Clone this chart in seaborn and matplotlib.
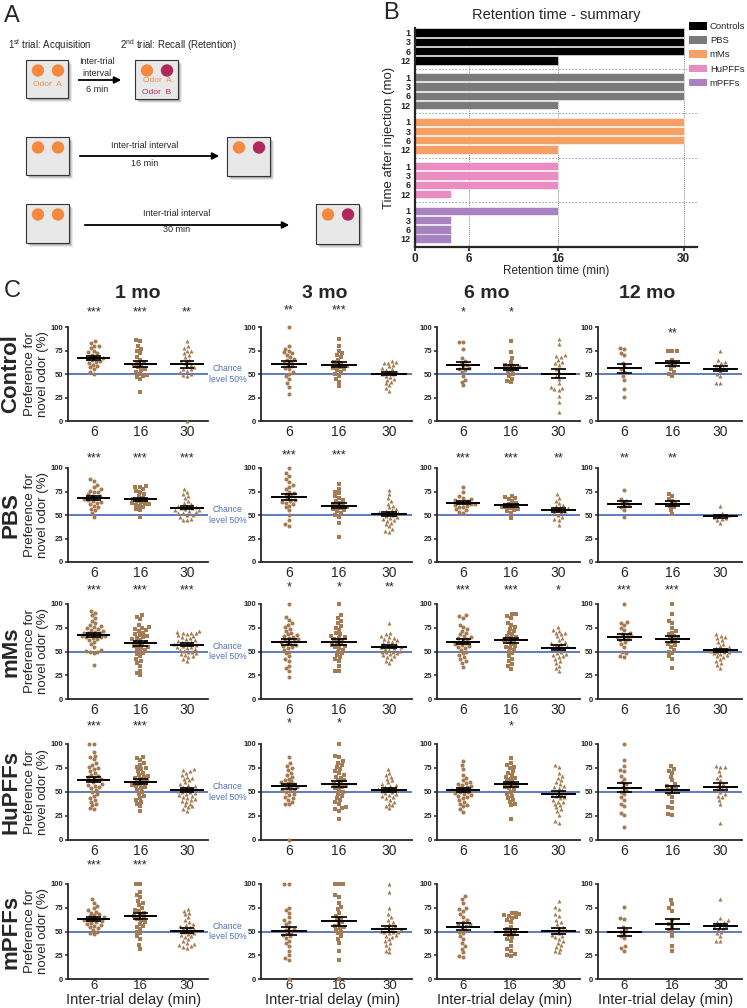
import numpy as np
import pandas as pd
import matplotlib
matplotlib.use("Agg")
import matplotlib.pyplot as plt
import seaborn as sns
from matplotlib.patches import Rectangle, Circle

# ---------------- DATA ----------------
delays = ["6", "16", "30"]
months = ["1 mo", "3 mo", "6 mo", "12 mo"]
groups = ["Control", "PBS", "mMs", "HuPFFs", "mPFFs"]

control_1mo = [[85,83,80,80,78,75,73,72,70,68,67,66,65,64,63,62,60,58,57,55,52,50],
               [86,85,80,77,75,72,68,65,63,62,60,58,57,55,54,52,50,49,48,47,45,31],
               [85,80,78,75,75,72,70,68,65,63,62,60,58,57,55,55,53,52,50,49,48,0]]
control_3mo = [[100,80,77,75,73,72,70,68,66,65,63,62,60,58,56,55,52,50,48,45,40,36,29],
               [87,80,75,72,70,68,65,63,62,60,58,57,56,55,54,52,50,48,45,42,37],
               [64,63,62,62,60,58,56,55,54,52,52,50,50,48,47,45,44,42,40,38,35,32]]
control_6mo = [[84,84,77,67,64,62,60,58,56,55,54,52,48,44,42,38],
               [85,73,67,63,60,59,58,57,56,55,54,52,50,48,45,43,41],
               [87,82,70,69,68,65,63,62,60,55,52,48,45,40,36,35,34,33,27,20,10]]
control_12mo = [[78,77,72,70,62,58,55,52,48,44,34,26],
                [74,74,75,65,62,60,58,55,52,50,48],
                [75,65,63,62,60,58,56,55,53,50,48,40,40]]

pbs_1mo = [[88,86,82,80,78,76,75,74,72,70,70,68,67,66,65,64,63,62,60,58,56,55,52,48],
           [81,80,80,78,76,75,72,70,68,67,66,65,64,63,62,62,61,60,58,56,55,48],
           [78,75,72,70,68,65,63,62,60,60,58,57,57,56,55,55,54,53,52,52,50,50,48,46,45,45]]
pbs_3mo = [[100,95,92,88,85,82,80,78,75,73,72,70,68,66,65,64,63,62,60,58,55,50,45,40,38],
           [83,78,75,73,70,68,66,65,63,62,60,60,58,57,56,55,54,52,50,48,42,27],
           [77,72,68,65,62,60,58,56,55,54,53,52,52,51,50,49,48,47,46,45,44,42,40,38,35,33,32]]
pbs_6mo = [[80,75,70,68,67,66,65,64,63,62,62,61,60,59,58,56,55,53,52],
           [70,69,68,67,65,63,62,60,59,58,57,56,55,54,52,47],
           [72,68,65,63,61,60,58,57,56,55,54,53,52,50,48,46,45,39]]
pbs_12mo = [[77,67,65,63,62,60,58,55,48],
            [72,70,67,65,62,60,58,55,51],
            [60,52,50,49,48,47,46,45,42]]

mms_1mo = [[93,91,88,85,82,80,78,77,76,75,74,73,72,71,70,70,69,68,67,66,66,65,65,64,63,62,60,58,55,52,51,50,50,48,36],
           [88,86,84,78,76,75,74,73,72,70,68,67,66,65,64,63,62,60,60,58,57,56,55,54,53,52,50,48,47,45,42,40,38,35,30,27,25],
           [72,71,70,70,69,68,67,66,65,64,63,62,61,60,60,59,58,57,56,55,55,54,53,52,51,50,49,48,47,46,45,44,42,40]]
mms_3mo = [[100,86,83,80,78,76,74,72,70,68,67,66,65,64,63,62,61,60,60,58,57,56,55,54,52,50,48,45,42,40,35,33,30,23],
           [100,88,85,82,80,77,75,73,70,68,66,65,64,63,62,60,58,57,56,55,54,52,50,48,46,44,42,40,35,30,29],
           [80,70,68,66,65,64,63,62,61,60,59,58,57,56,55,55,54,53,52,51,50,50,49,48,47,46,45,44,42,40,38]]
mms_6mo = [[88,87,85,78,76,74,72,70,68,66,65,64,63,62,60,59,58,57,56,55,54,52,50,48,46,44,42,40,38,34],
           [90,89,87,85,80,78,76,74,72,70,68,66,65,64,62,61,60,58,56,55,54,52,50,48,45,42,40,37,35,32],
           [76,73,72,70,70,68,66,64,62,60,59,58,57,56,55,54,53,52,50,48,47,46,45,44,42,40,38,35,33,30]]
mms_12mo = [[100,81,80,78,75,73,70,68,67,66,65,64,63,62,60,58,55,50,48,45,44],
            [100,89,82,80,75,72,70,68,66,65,64,62,60,58,57,55,52,50,48,45,42,33],
            [68,66,65,64,62,60,58,56,55,54,53,52,51,50,50,49,48,47,46,45,44,42,40,38,36,33]]

hupffs_1mo = [[100,100,92,88,86,84,80,78,76,75,74,72,70,68,67,66,65,64,63,62,60,58,57,56,55,54,52,50,48,46,44,42,40,38,36,33,32],
              [86,85,83,80,78,76,75,74,72,70,68,67,66,65,64,62,61,60,58,57,56,55,54,52,50,48,46,44,42,40,38,35,30],
              [74,73,72,70,68,66,65,64,62,60,58,57,56,55,54,53,52,51,50,50,49,48,47,46,45,44,43,42,41,40,38,36,35,34,32,30]]
hupffs_3mo = [[86,80,77,75,73,70,68,66,64,62,61,60,59,58,57,56,55,54,53,52,51,50,48,47,45,44,42,40,38,37,0],
              [100,88,86,82,80,78,76,74,72,70,68,66,65,63,62,60,58,57,56,55,54,52,50,48,46,44,42,40,38,34,33,32,30,22],
              [74,70,68,66,64,62,60,58,57,56,55,54,53,52,52,51,50,49,48,47,46,45,44,42,40,38,36,35,33]]
hupffs_6mo = [[82,78,74,68,65,62,60,59,58,57,56,55,54,53,52,51,50,50,49,48,47,46,45,44,42,40,38,36,35,32,29],
              [85,80,78,76,75,72,70,68,66,65,64,62,60,58,57,56,55,54,52,50,48,46,44,42,40,38,36,22],
              [78,76,70,67,65,62,60,58,56,55,54,52,50,49,48,47,46,45,44,42,40,40,38,36,34,32,30,26,20,18]]
hupffs_12mo = [[100,83,77,73,72,67,64,60,58,55,52,50,48,45,42,38,35,28,26,14],
               [77,74,72,70,66,62,58,56,55,53,52,50,48,45,40,34,33,27,26],
               [77,76,76,72,68,65,62,58,56,55,54,52,50,48,46,45,42,38,18]]

mpffs_1mo = [[84,80,77,75,73,71,70,68,67,66,65,64,63,62,62,61,60,59,58,57,56,55,54,52,50,48,47],
             [100,100,92,88,86,82,80,78,75,73,72,70,68,66,65,63,62,60,58,56,55,53,50,48,45,42,36,32],
             [74,72,70,68,65,62,60,58,57,56,55,54,53,52,51,50,49,48,47,46,45,44,42,40,38,37,36,35,34,33]]
mpffs_3mo = [[100,100,75,73,70,65,62,60,58,55,53,52,50,48,46,45,43,40,38,35,30,25,22,20,0],
             [100,100,100,88,86,80,76,74,70,66,64,62,60,58,56,55,54,52,50,48,45,42,38,30,20,0],
             [100,92,75,68,65,62,60,58,56,55,54,53,52,51,50,50,49,48,46,45,44,42,40,38,36,33,30,28]]
mpffs_6mo = [[87,84,80,75,74,72,68,65,62,60,58,57,56,55,52,50,48,45,42,38,35,32,28,24,23],
             [70,69,68,67,66,65,64,62,60,55,53,52,50,49,48,46,44,42,40,35,32,30,26,25,24],
             [82,76,74,68,66,62,60,58,55,54,52,50,50,48,46,45,44,42,40,38,36,34,32,30,28]]
mpffs_12mo = [[76,64,63,55,52,50,48,45,43,35,33,30],
              [83,79,75,72,62,58,55,52,50,45,35,30],
              [84,64,62,60,60,58,56,55,54,53,50,48,45,40,40]]

control_stars = [["***", "***", "**"], ["**", "***", ""], ["*", "*", ""], ["", "**", ""]]
pbs_stars = [["***", "***", "***"], ["***", "***", ""], ["***", "***", "**"], ["**", "**", ""]]
mms_stars = [["***", "***", "***"], ["*", "*", "**"], ["***", "***", "*"], ["***", "***", ""]]
hupffs_stars = [["***", "***", ""], ["*", "*", ""], ["", "*", ""], ["", "", ""]]
mpffs_stars = [["***", "***", ""], ["", "", ""], ["", "", ""], ["", "", ""]]

summary_groups = ["Controls", "PBS", "mMs", "HuPFFs", "mPFFs"]
summary_months = ["1", "3", "6", "12"]
controls_retention = [30, 30, 30, 16]
pbs_retention = [30, 30, 30, 16]
mms_retention = [30, 30, 30, 16]
hupffs_retention = [16, 16, 16, 4]
mpffs_retention = [16, 4, 4, 4]

# ---------------- STYLE ----------------
sns.set_theme(style="ticks")
plt.rcParams["font.family"] = ["Liberation Sans", "DejaVu Sans"]
plt.rcParams["mathtext.fontset"] = "custom"
plt.rcParams["mathtext.rm"] = "Liberation Sans"
plt.rcParams["axes.linewidth"] = 1.3

W, H = 747, 1008
fig = plt.figure(figsize=(W / 100, H / 100), dpi=100)
fig.patch.set_facecolor("white")


def rect(l, t, r, b):
    return [l / W, 1 - b / H, (r - l) / W, (b - t) / H]


# overlay in pixel units
ov = fig.add_axes([0, 0, 1, 1])
ov.set_xlim(0, W)
ov.set_ylim(H, 0)
ov.axis("off")

# ---------------- PANEL A ----------------
ORANGE = "#f58a3f"
MAGENTA = "#b2275b"
ov.text(4, 16, "A", fontsize=17, va="center", ha="left")
ov.text(8, 45, r"1$^{\mathrm{st}}$ trial: Acquisition", fontsize=7, va="center")
ov.text(120, 45, r"2$^{\mathrm{nd}}$ trial: Recall (Retention)", fontsize=7, va="center")


def box(x0, y0, x1, y1, second):
    for k, a in [(4, 0.12), (3, 0.18), (2, 0.25)]:
        ov.add_patch(Rectangle((x0 + k, y0 + k), x1 - x0, y1 - y0, facecolor="#555555",
                               edgecolor="none", alpha=a))
    ov.add_patch(Rectangle((x0, y0), x1 - x0, y1 - y0, facecolor="#e8e8e8",
                           edgecolor="#333333", lw=0.8))
    ov.add_patch(Circle((x0 + 12, y0 + 10.5), 6.2, facecolor=ORANGE, edgecolor="none"))
    ov.add_patch(Circle((x0 + 32, y0 + 10.5), 6.2, facecolor=MAGENTA if second else ORANGE,
                        edgecolor="none"))


def arrow(x0, x1, y):
    ov.annotate("", xy=(x1, y), xytext=(x0, y),
                arrowprops=dict(arrowstyle="-|>", lw=1.3, color="black", mutation_scale=10))


box(26, 60, 68, 98, False)
ov.text(47, 85, "Odor  A", color=ORANGE, fontsize=6, ha="center", va="center")
arrow(76, 124, 80)
ov.text(97, 62, "Inter-trial", fontsize=6.5, ha="center", va="center")
ov.text(97, 74, "interval", fontsize=6.5, ha="center", va="center")
ov.text(97, 89, "6 min", fontsize=6.5, ha="center", va="center")
box(135, 60, 178, 99, True)
ov.text(157, 81, "Odor  A", color=ORANGE, fontsize=6, ha="center", va="center")
ov.text(157, 92, "Odor  B", color=MAGENTA, fontsize=6, ha="center", va="center")

box(26, 137, 69, 175, False)
arrow(77, 222, 156)
ov.text(145, 146, "Inter-trial interval", fontsize=6.5, ha="center", va="center")
ov.text(145, 163, "16 min", fontsize=6.5, ha="center", va="center")
box(227, 137, 270, 176, True)

box(26, 204, 69, 243, False)
arrow(82, 292, 225)
ov.text(177, 214, "Inter-trial interval", fontsize=6.5, ha="center", va="center")
ov.text(177, 230, "30 min", fontsize=6.5, ha="center", va="center")
box(316, 204, 359, 244, True)

# ---------------- PANEL B ----------------
ov.text(383, 13, "B", fontsize=17, va="center", ha="left")
bcolors = ["#000000", "#7a7a7a", "#f6a066", "#e98cbf", "#a883c0"]
retention = [controls_retention, pbs_retention, mms_retention, hupffs_retention, mpffs_retention]
axb = fig.add_axes(rect(415, 28, 697, 247))
gstep = 4.8
ypos, yvals, ycols, ylabs = [], [], [], []
for g, (vals, col) in enumerate(zip(retention, bcolors)):
    for i, v in enumerate(vals):
        ypos.append(g * gstep + i)
        yvals.append(v)
        ycols.append(col)
        ylabs.append(summary_months[i])
bdf = pd.DataFrame({"pos": ypos, "val": yvals})
for g in range(4):
    axb.axhline(g * gstep + 3.9, color="#999999", lw=0.6, ls=(0, (2, 2)), zorder=0)
for xv in [6, 16, 30]:
    axb.axvline(xv, color="#555555", lw=0.6, ls=(0, (1, 1.5)), zorder=0)
axb.barh(bdf["pos"], bdf["val"], height=0.9, color=ycols, edgecolor="white", lw=0.4, zorder=2)
axb.set_ylim(23.1, -0.5)
axb.set_xlim(0, 31.5)
axb.set_yticks(ypos)
axb.set_yticklabels(ylabs, fontsize=6.5, fontweight="bold")
axb.set_xticks([0, 6, 16, 30])
axb.set_xticklabels(["0", "6", "16", "30"], fontsize=8.5, fontweight="bold")
axb.tick_params(axis="y", length=0, pad=3)
axb.tick_params(axis="x", length=3, width=1.2, pad=1)
axb.spines["top"].set_visible(False)
axb.spines["right"].set_visible(False)
axb.spines["left"].set_linewidth(1.6)
axb.spines["bottom"].set_linewidth(1.6)
axb.set_facecolor("white")
axb.set_xlabel("Retention time (min)", fontsize=8.5, labelpad=0)
axb.set_ylabel("Time after injection (mo)", fontsize=9.5, labelpad=4)
ov.text(556, 15, "Retention time - summary", fontsize=10.5, ha="center", va="center")
handles = [Rectangle((0, 0), 1, 1, facecolor=c, edgecolor="none") for c in bcolors]
fig.legend(handles, summary_groups, loc="upper left", bbox_to_anchor=(689 / W, 1 - 22 / H),
           frameon=False, fontsize=6.8, handlelength=1.9, handleheight=0.85, labelspacing=0.55,
           handletextpad=0.3, borderaxespad=0, borderpad=0)

# ---------------- PANEL C ----------------
ov.text(4, 291, "C", fontsize=17, va="center", ha="left")
BROWN = "#a47b52"
BLUE = "#5371b8"
markers = ["o", "s", "^"]
panel_data = [[control_1mo, control_3mo, control_6mo, control_12mo],
              [pbs_1mo, pbs_3mo, pbs_6mo, pbs_12mo],
              [mms_1mo, mms_3mo, mms_6mo, mms_12mo],
              [hupffs_1mo, hupffs_3mo, hupffs_6mo, hupffs_12mo],
              [mpffs_1mo, mpffs_3mo, mpffs_6mo, mpffs_12mo]]
panel_stars = [control_stars, pbs_stars, mms_stars, hupffs_stars, mpffs_stars]
row_px = [(327, 421), (468, 562), (604, 699), (744, 840), (884, 979)]
col_px = [(68, 208), (261, 412), (437, 580), (598, 742)]
star_y = [115, 110, 114, 118, 120]
title_x = [138, 325, 487, 647]

for c, t in enumerate(months):
    ov.text(title_x[c], 294, t, fontsize=14, fontweight="bold", ha="center", va="center")

for r in range(5):
    t, b = row_px[r]
    ov.text(11, (t + b) / 2, groups[r], fontsize=16, fontweight="bold", rotation=90,
            ha="center", va="center")
    for c in range(4):
        l, rr = col_px[c]
        ax = fig.add_axes(rect(l, t, rr, b))
        ax.set_facecolor("none")
        vals = panel_data[r][c]
        df = pd.DataFrame({"delay": np.repeat(delays, [len(v) for v in vals]),
                           "value": np.concatenate([np.asarray(v, float) for v in vals])})
        ax.axhline(50, color=BLUE, lw=1.3, zorder=1)
        for i, d in enumerate(delays):
            sns.swarmplot(data=df[df["delay"] == d], x="delay", y="value", order=delays,
                          marker=markers[i], color=BROWN, size=2.9, linewidth=0, ax=ax,
                          zorder=3, warn_thresh=1)
        for i, v in enumerate(vals):
            v = np.asarray(v, float)
            m = v.mean()
            se = v.std(ddof=1) / np.sqrt(len(v))
            ax.hlines(m, i - 0.36, i + 0.36, color="black", lw=1.4, zorder=5)
            ax.vlines(i, m - se, m + se, color="black", lw=1.2, zorder=5)
            ax.hlines([m - se, m + se], i - 0.16, i + 0.16, color="black", lw=1.2, zorder=5)
            s = panel_stars[r][c][i]
            if s:
                yy = star_y[r] + (3 if c == 1 else 0)
                if r == 0 and c == 3:
                    yy = 93
                ax.text(i, yy, s, fontsize=9, ha="center", va="center", clip_on=False)
        for coll in ax.collections:
            coll.set_clip_on(False)
        ax.set_xlim(-0.55, 2.45)
        ax.set_ylim(0, 100)
        ax.set_yticks([0, 25, 50, 75, 100])
        ax.set_yticklabels(["0", "25", "50", "75", "100"], fontsize=5.5, fontweight="bold")
        ax.set_xticks([0, 1, 2])
        ax.set_xticklabels(delays, fontsize=10 if r < 4 else 9.5)
        ax.tick_params(axis="y", length=2.5, width=1.1, pad=0.8)
        ax.tick_params(axis="x", length=0, pad=3 if r < 4 else 0.5)
        ax.spines["top"].set_visible(False)
        ax.spines["right"].set_visible(False)
        ax.set_ylabel("")
        ax.set_xlabel("")
        if r == 4:
            ov.text((l + rr) / 2 - 4, 1000, "Inter-trial delay (min)", fontsize=10.5,
                    ha="center", va="center")
        if c == 0:
            ax.set_ylabel("Preference for\nnovel odor (%)", fontsize=9.5, labelpad=1.5,
                          linespacing=1.1)
            ov.text(228, b - (b - t) * 0.5, "Chance\nlevel 50%", color=BLUE, fontsize=6.2,
                    ha="center", va="center", linespacing=1.2)

fig.savefig("out.png", dpi=100)
